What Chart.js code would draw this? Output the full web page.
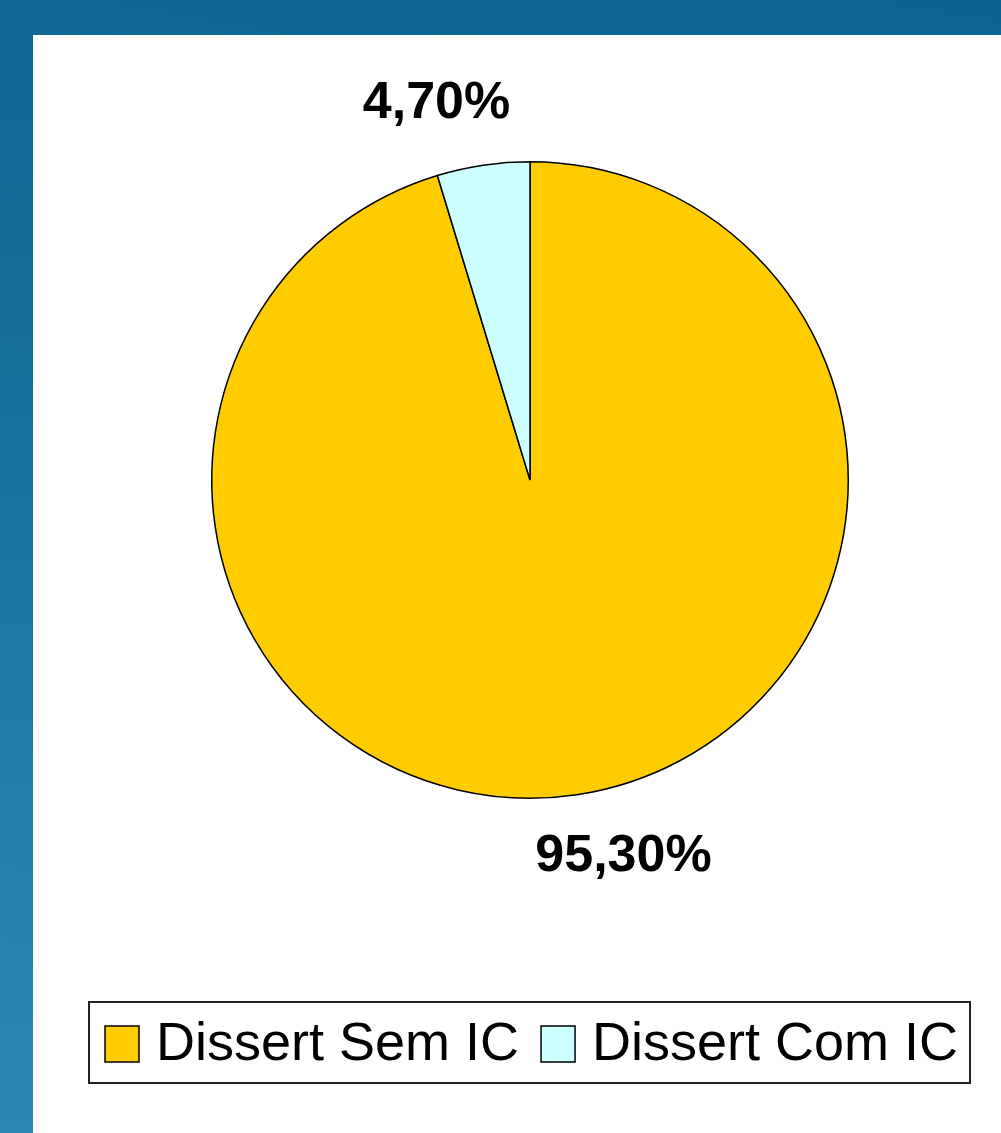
<!DOCTYPE html>
<html>
<head>
<meta charset="utf-8">
<script src="https://cdn.jsdelivr.net/npm/chart.js@4"></script>
<style>
  html, body { margin: 0; padding: 0; }
  body {
    width: 1001px; height: 1133px; overflow: hidden; position: relative;
    background: linear-gradient(190deg, #0c6590 0%, #136d97 35%, #2080ab 75%, #2c88b3 100%);
  }
  #panel { position: absolute; left: 33px; top: 35px; width: 968px; height: 1098px; background: #ffffff; }
  canvas { display: block; }
</style>
</head>
<body>
<div id="panel"><canvas id="c" width="968" height="1098"></canvas></div>
<script>
const categories = ['Dissert Sem IC', 'Dissert Com IC'];
const values = [95.3, 4.7];
const colors = ['#FFCC00', '#CCFFFF'];

const FONT = '"Liberation Sans", Arial, sans-serif';

const sliceLabels = {
  id: 'sliceLabels',
  afterDatasetsDraw(chart) {
    const ctx = chart.ctx;
    const meta = chart.getDatasetMeta(0);
    const data = chart.data.datasets[0].data;
    ctx.save();
    ctx.font = 'bold 52px ' + FONT;
    ctx.fillStyle = '#000';
    ctx.textAlign = 'center';
    ctx.textBaseline = 'middle';
    meta.data.forEach((arc, i) => {
      const p = arc.getProps(['x', 'y', 'startAngle', 'endAngle', 'outerRadius'], true);
      const mid = (p.startAngle + p.endAngle) / 2 - 0.096;
      const d = p.outerRadius * 1.218;
      const txt = data[i].toFixed(2).replace('.', ',') + '%';
      ctx.fillText(txt, p.x + Math.cos(mid) * d, p.y + Math.sin(mid) * d);
    });
    ctx.restore();
  }
};

const boxedLegend = {
  id: 'boxedLegend',
  afterDraw(chart) {
    const ctx = chart.ctx;
    const labels = chart.data.labels;
    const bg = chart.data.datasets[0].backgroundColor;
    ctx.save();
    ctx.strokeStyle = '#222';
    ctx.lineWidth = 2;
    ctx.strokeRect(56, 967, 881, 81);
    ctx.font = '54px ' + FONT;
    ctx.textBaseline = 'middle';
    ctx.textAlign = 'left';
    let x = 72;
    const cy = 1009;
    labels.forEach((lab, i) => {
      ctx.fillStyle = bg[i];
      ctx.fillRect(x, cy - 18, 34, 36);
      ctx.strokeStyle = '#000';
      ctx.lineWidth = 1.5;
      ctx.strokeRect(x, cy - 18, 34, 36);
      x += 34 + 17;
      ctx.fillStyle = '#000';
      ctx.fillText(lab, x, cy + 1);
      x += ctx.measureText(lab).width + 22;
    });
    ctx.restore();
  }
};

new Chart(document.getElementById('c'), {
  type: 'pie',
  data: {
    labels: categories,
    datasets: [{
      data: values,
      backgroundColor: colors,
      borderColor: '#000000',
      borderWidth: 1.5,
      hoverOffset: 0
    }]
  },
  options: {
    responsive: false,
    devicePixelRatio: 1,
    animation: false,
    events: [],
    layout: { padding: { left: 26, right: 0, top: 126, bottom: 334 } },
    plugins: {
      legend: { display: false },
      tooltip: { enabled: false }
    }
  },
  plugins: [sliceLabels, boxedLegend]
});
</script>
</body>
</html>
